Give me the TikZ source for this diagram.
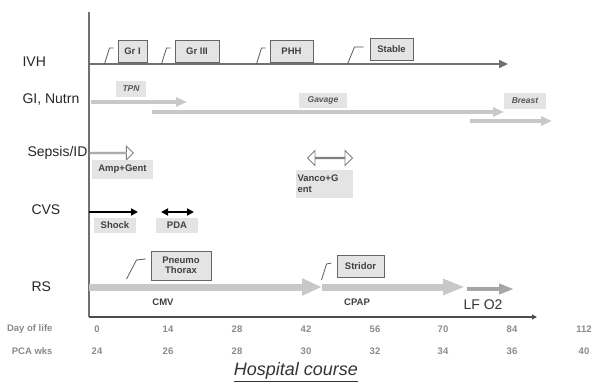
\documentclass[tikz,border=0pt]{standalone}
\usepackage{fontspec}
\setmainfont{Liberation Sans}
\usetikzlibrary{arrows.meta,shapes.arrows}
\definecolor{boxfill}{HTML}{E4E4E4}
\definecolor{bargray}{HTML}{C8C8C8}
\definecolor{linegray}{HTML}{707070}
\definecolor{textgray}{HTML}{8A8A8A}

\begin{document}
\begin{tikzpicture}[x=1pt,y=-1pt,
  rowlabel/.style={anchor=west, font=\fontsize{14}{16}\selectfont, text=black!85},
  event/.style={draw=black!60, line width=1pt, fill=boxfill, inner sep=1pt,
    font=\bfseries\fontsize{9.5}{11}\selectfont, text=black!75, minimum height=22pt},
  tag/.style={fill=boxfill, inner sep=1pt, font=\bfseries\fontsize{9.5}{11}\selectfont, text=black!75},
  itag/.style={tag, font=\bfseries\itshape\fontsize{8.5}{10}\selectfont, text=black!65},
  tick/.style={font=\bfseries\fontsize{9.5}{11}\selectfont, text=textgray},
  leader/.style={draw=black!65, line width=0.8pt},
  feed/.style={draw=bargray, line width=3.5pt, -{Triangle[length=11pt,width=9pt]}},
  resp/.style={draw=bargray, line width=7pt, -{Triangle[length=20pt,width=16pt]}},
  hollow/.style={draw=black!50, fill=white, line width=0.9pt, inner sep=0pt}]
\useasboundingbox (0,0) rectangle (593,386);

\coordinate (top) at (89,12);
\coordinate (orig) at (89,317);
\coordinate (xend) at (537,317);
\draw[linegray, line width=1.4pt] (top) -- (orig);
\draw[black!70, line width=1.2pt, -{Triangle[length=5pt,width=5pt]}] (orig) -- (xend);

\node[rowlabel] (ivh) at (19,62) {IVH};
\node[rowlabel] (gi) at (19,100) {GI, Nutrn};
\node[rowlabel] (sep) at (24,153) {Sepsis/ID};
\node[rowlabel] (cvs) at (28,210) {CVS};
\node[rowlabel] (rs) at (28,287) {RS};

\coordinate (ivh0) at (89,64);
\coordinate (ivh1) at (508,64);
\draw[linegray, line width=2pt, -{Triangle[length=9pt,width=8pt]}] (ivh0) -- (ivh1);
\node[event, minimum width=29pt] (gr1) at (132.5,51) {Gr I};
\node[event, minimum width=44pt] (gr3) at (197,51) {Gr III};
\node[event, minimum width=43pt] (phh) at (291.5,51) {PHH};
\node[event, minimum width=43pt] (stab) at (391.5,49) {Stable};
\draw[leader] ([xshift=-13pt,yshift=-13pt]gr1.west) -- ([xshift=-8pt,yshift=3pt]gr1.west) -- ([xshift=-4pt,yshift=3pt]gr1.west);
\draw[leader] ([xshift=-13pt,yshift=-13pt]gr3.west) -- ([xshift=-8pt,yshift=3pt]gr3.west) -- ([xshift=-4pt,yshift=3pt]gr3.west);
\draw[leader] ([xshift=-13pt,yshift=-13pt]phh.west) -- ([xshift=-8pt,yshift=3pt]phh.west) -- ([xshift=-4pt,yshift=3pt]phh.west);
\draw[leader] ([xshift=-22pt,yshift=-15pt]stab.west) -- ([xshift=-15pt,yshift=2pt]stab.west) -- ([xshift=-6pt,yshift=2pt]stab.west);

\coordinate (tpn0) at (91,102);
\coordinate (tpn1) at (187,102);
\coordinate (gav0) at (152,112);
\coordinate (gav1) at (504,112);
\coordinate (br0) at (470,121);
\coordinate (br1) at (552,121);
\draw[feed] (tpn0) -- (tpn1);
\draw[feed] (gav0) -- (gav1);
\draw[feed] (br0) -- (br1);
\node[itag, minimum width=30pt, minimum height=16pt] (tpn) at (131,89) {TPN};
\node[itag, minimum width=48pt, minimum height=15pt] (gav) at (323,100) {Gavage};
\node[itag, minimum width=42pt, minimum height=16pt] (brst) at (525,100.5) {Breast};

\node[hollow, single arrow, minimum height=44pt, minimum width=14pt,
  single arrow head extend=4pt] (ampA) at (111,153) {};
\node[tag, minimum width=61pt, minimum height=19pt] (amp) at (122.5,169) {Amp+Gent};
\node[hollow, double arrow, minimum height=45pt, minimum width=15pt,
  double arrow head extend=4.5pt] (vancA) at (330,158) {};
\node[tag, minimum width=57pt, minimum height=28pt, align=left, text width=53pt] (vanc) at (324,183.5) {Vanco+G\\ent};

\coordinate (sh0) at (89,212);
\coordinate (sh1) at (138,212);
\coordinate (pda0) at (161,212);
\coordinate (pda1) at (194,212);
\draw[black, line width=1.7pt, -{Triangle[length=7pt,width=7pt]}] (sh0) -- (sh1);
\draw[black, line width=1.7pt, {Triangle[length=7pt,width=7pt]}-{Triangle[length=7pt,width=7pt]}] (pda0) -- (pda1);
\node[tag, minimum width=42pt, minimum height=15pt] (shock) at (115,225.5) {Shock};
\node[tag, minimum width=42pt, minimum height=15pt] (pda) at (177,225.5) {PDA};

\coordinate (cmv0) at (89,287);
\coordinate (cmv1) at (322,287);
\coordinate (cpap0) at (322,287);
\coordinate (cpap1) at (465,287);
\coordinate (lf0) at (467,289);
\coordinate (lf1) at (514,289);
\draw[resp] (cmv0) -- (cmv1);
\draw[resp, -{Triangle[length=22pt,width=15pt]}] (cpap0) -- (cpap1);
\draw[draw=black!35, line width=4pt, -{Triangle[length=15pt,width=10pt]}] (lf0) -- (lf1);
\node[event, minimum width=60pt, minimum height=29pt, align=center, font=\bfseries\fontsize{9.5}{10.5}\selectfont] (pneumo) at (181,265.5) {Pneumo\\Thorax};
\node[event, minimum width=47pt] (strid) at (360.5,266) {Stridor};
\draw[leader] ([xshift=-24pt,yshift=-13.5pt]pneumo.west) -- ([xshift=-14pt,yshift=5.5pt]pneumo.west) -- ([xshift=-5pt,yshift=6.5pt]pneumo.west);
\draw[leader] ([xshift=-15pt,yshift=-14pt]strid.west) -- ([xshift=-10pt,yshift=2pt]strid.west) -- ([xshift=-5pt,yshift=3pt]strid.west);
\node[font=\bfseries\fontsize{9.5}{11}\selectfont, text=black!75] (cmv) at (163,302) {CMV};
\node[font=\bfseries\fontsize{9.5}{11}\selectfont, text=black!75] (cpap) at (357,302) {CPAP};
\node[font=\fontsize{14}{16}\selectfont, text=black!80] (lfo) at (483,305) {LF O2};

\node[tick, anchor=east] (dol) at (56,329) {Day of life};
\node[tick, anchor=east] (pca) at (56,351) {PCA wks};
\foreach \x/\d/\w in {97/0/24, 168/14/26, 237/28/28, 306/42/30, 375/56/32, 443/70/34, 512/84/36, 584/112/40} {
  \node[tick] at (\x,329) {\d};
  \node[tick] at (\x,351) {\w};
}

\node[font=\itshape\fontsize{18}{20}\selectfont, text=black!80] (title) at (296,372) {\underline{Hospital course}};
\end{tikzpicture}
\end{document}
